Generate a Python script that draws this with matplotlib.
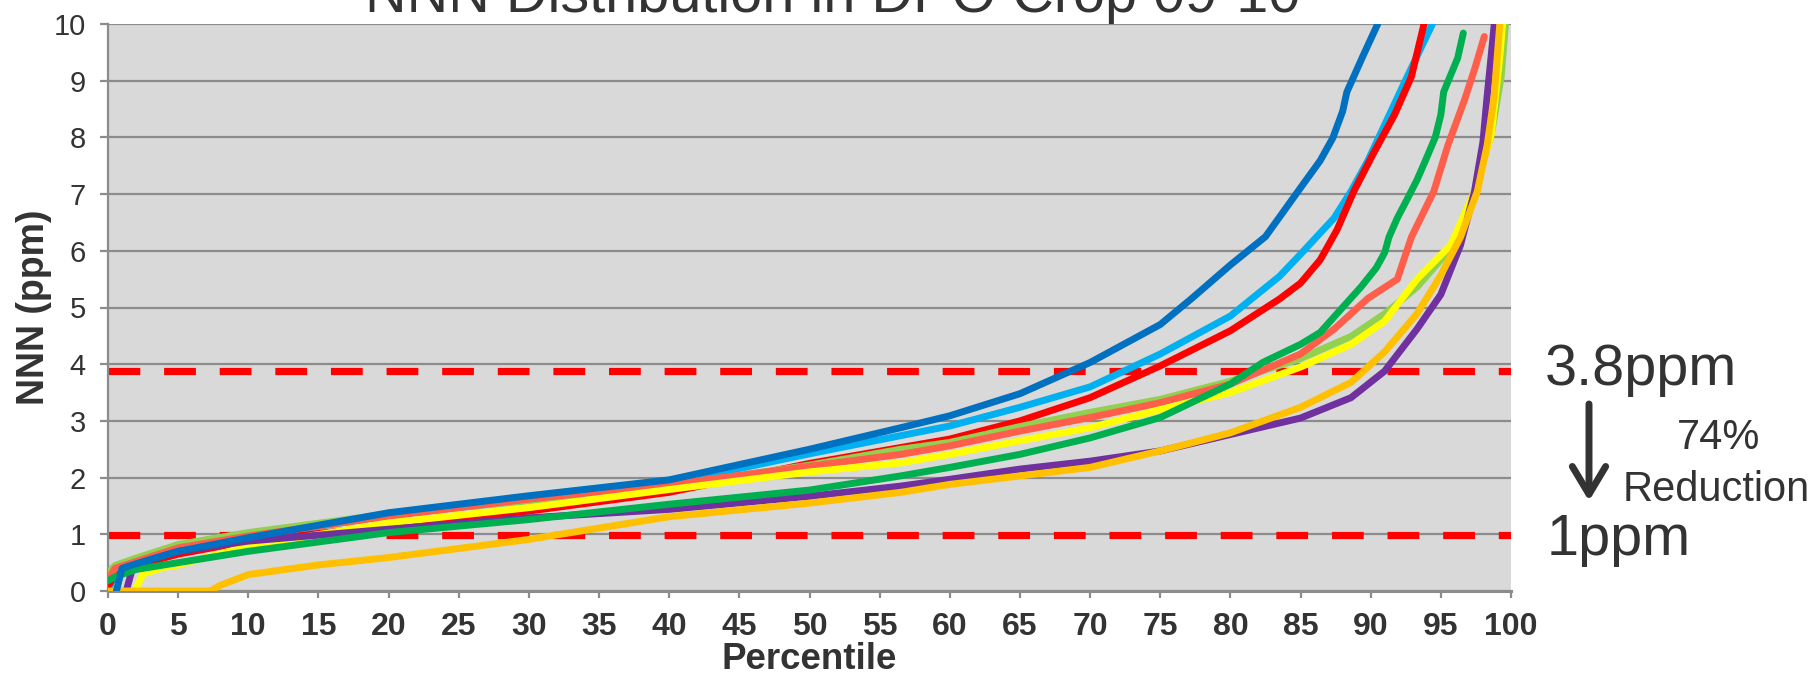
import matplotlib
matplotlib.use("Agg")
import matplotlib.pyplot as plt
from matplotlib.patches import FancyArrowPatch

# ---------------- data (percentile -> NNN ppm) ----------------
blue_pct = [0.6, 1.0, 2, 5, 10, 20, 30, 40, 50, 56.5, 60, 65, 70, 75, 77.2, 80, 82.5, 85.2, 86.4, 87.3, 88.0, 88.3, 89.4, 90.5]
blue_nnn = [0, 0.4, 0.48, 0.7, 0.94, 1.38, 1.68, 1.96, 2.5, 2.88, 3.09, 3.48, 4.03, 4.7, 5.15, 5.75, 6.25, 7.18, 7.59, 7.99, 8.46, 8.8, 9.41, 10]

lblue_pct = [0, 0.5, 1, 2, 5, 10, 20, 30, 40, 50, 56.5, 60, 65, 70, 75, 80, 81.5, 83.5, 85, 87.4, 88.6, 89.8, 91.2, 92.6, 94.4]
lblue_nnn = [0, 0.3, 0.45, 0.5, 0.72, 0.95, 1.33, 1.62, 1.9, 2.42, 2.74, 2.91, 3.24, 3.6, 4.18, 4.85, 5.15, 5.55, 5.94, 6.58, 7.05, 7.59, 8.33, 9.07, 10]

red_pct = [0, 0.5, 2, 5, 10, 20, 30, 40, 50, 56.5, 60, 65, 70, 75, 80, 83.5, 85, 86.4, 87.6, 88.8, 90.2, 91.7, 92.9, 93.8]
red_nnn = [0.08, 0.3, 0.45, 0.65, 0.88, 1.15, 1.41, 1.74, 2.25, 2.53, 2.68, 3.0, 3.41, 3.97, 4.59, 5.15, 5.43, 5.84, 6.37, 7.05, 7.72, 8.4, 9.07, 10]

salmon_pct = [0, 0.5, 2, 5, 10, 20, 30, 40, 50, 56.5, 60, 65, 70, 75, 80, 85, 87.4, 89.8, 91.9, 92.9, 94.5, 95.5, 96.7, 97.4, 98.1]
salmon_nnn = [0.2, 0.4, 0.52, 0.76, 0.97, 1.32, 1.62, 1.88, 2.2, 2.41, 2.56, 2.82, 3.06, 3.32, 3.65, 4.18, 4.62, 5.16, 5.5, 6.24, 7.05, 7.86, 8.67, 9.2, 9.78]

lgreen_pct = [0, 0.5, 2, 5, 10, 20, 30, 40, 50, 56.5, 60, 65, 70, 75, 80, 85, 88.6, 91, 93.3, 95.7, 97.4, 98.6, 99.3, 99.6]
lgreen_nnn = [0.32, 0.45, 0.58, 0.82, 1.03, 1.36, 1.59, 1.85, 2.22, 2.5, 2.62, 2.9, 3.15, 3.38, 3.7, 4.1, 4.49, 4.89, 5.36, 6.04, 7.05, 8.06, 9.07, 9.98]

yellow_pct = [1.9, 2.5, 4, 5, 10, 20, 30, 40, 50, 56.5, 60, 65, 70, 75, 80, 85, 88.6, 91, 93.3, 95.7, 97.4, 98.6, 99.2, 99.4]
yellow_nnn = [0, 0.3, 0.42, 0.46, 0.79, 1.2, 1.47, 1.79, 2.1, 2.26, 2.41, 2.65, 2.88, 3.2, 3.5, 3.95, 4.35, 4.76, 5.5, 6.1, 7.05, 8.06, 9.41, 10]

green_pct = [0, 0.5, 2, 5, 10, 20, 30, 40, 50, 56.5, 60, 65, 70, 75, 80, 82.3, 85, 86.4, 88.1, 89.3, 90.4, 91.0, 91.3, 91.9, 92.6, 93.3, 93.9, 94.6, 95.0, 95.2, 96.2, 96.6]
green_nnn = [0.18, 0.25, 0.38, 0.5, 0.7, 1.03, 1.26, 1.53, 1.78, 2.03, 2.18, 2.41, 2.7, 3.06, 3.65, 4.03, 4.35, 4.56, 5.03, 5.36, 5.7, 5.97, 6.24, 6.58, 6.91, 7.25, 7.59, 8.0, 8.4, 8.8, 9.4, 9.84]

purple_pct = [1.3, 1.8, 3, 5, 10, 20, 30, 40, 50, 56.5, 60, 65, 70, 75, 80, 85, 88.6, 91, 93.3, 95, 96.4, 97.4, 98, 98.3, 98.6, 98.8]
purple_nnn = [0, 0.45, 0.55, 0.7, 0.88, 1.09, 1.29, 1.44, 1.67, 1.85, 1.97, 2.15, 2.29, 2.47, 2.76, 3.05, 3.41, 3.88, 4.62, 5.23, 6.1, 7.05, 7.92, 8.73, 9.47, 9.98]

orange_pct = [0, 7.3, 8, 10, 15, 20, 30, 40, 50, 56.5, 60, 65, 70, 75, 80, 85, 88.6, 91, 93.3, 95, 96.4, 97.6, 98.3, 98.8, 99.2]
orange_nnn = [0, 0, 0.1, 0.29, 0.46, 0.59, 0.91, 1.31, 1.55, 1.74, 1.88, 2.03, 2.18, 2.47, 2.79, 3.24, 3.68, 4.22, 4.89, 5.57, 6.24, 7.05, 7.86, 8.73, 10]

series = [
    (lblue_pct, lblue_nnn, "#00B0F0"),
    (red_pct, red_nnn, "#FF0000"),
    (lgreen_pct, lgreen_nnn, "#92D050"),
    (salmon_pct, salmon_nnn, "#FF5F4A"),
    (yellow_pct, yellow_nnn, "#FFFF00"),
    (purple_pct, purple_nnn, "#7030A0"),
    (orange_pct, orange_nnn, "#FFC000"),
    (green_pct, green_nnn, "#00B050"),
    (blue_pct, blue_nnn, "#0070C0"),
]

threshold_levels = [3.88, 0.98]
x_ticks = list(range(0, 101, 5))
y_ticks = list(range(0, 11))

title = "NNN Distribution in DPO Crop 09-10"
text_color = "#333333"

# ---------------- figure ----------------
W, H = 1818, 674
plt.rcParams['font.family'] = ['Liberation Sans', 'DejaVu Sans']
fig = plt.figure(figsize=(W / 100, H / 100), dpi=100)

ax = fig.add_axes([108 / W, 1 - 591 / H, (1511 - 108) / W, (591 - 24) / H])
ax.set_facecolor("#D9D9D9")
ax.set_xlim(0, 100)
ax.set_ylim(0, 10)

for y in y_ticks:
    ax.axhline(y, color="#8C8C8C", lw=1.6, zorder=1)

for lvl in threshold_levels:
    ax.axhline(lvl, color="#FF0000", lw=5.2, dashes=(4.4, 3.3), zorder=2)

for pct, val, col in series:
    ax.plot(pct, val, color=col, lw=5.0, solid_capstyle="round",
            solid_joinstyle="round", zorder=3)

for s in ["top", "right"]:
    ax.spines[s].set_visible(False)
for s in ["left", "bottom"]:
    ax.spines[s].set_color("#8C8C8C")
ax.spines["left"].set_linewidth(1.6)
ax.spines["bottom"].set_linewidth(2.2)

ax.set_xticks(x_ticks)
ax.set_yticks(y_ticks)
ax.tick_params(axis="y", direction="out", length=6, width=1.6, color="#8C8C8C",
               labelsize=21, labelcolor=text_color, pad=10)
ax.tick_params(axis="x", direction="out", length=5, width=1.6, color="#8C8C8C",
               labelsize=23, labelcolor=text_color, pad=10)
for lab in ax.get_xticklabels():
    lab.set_fontweight("bold")

ax.set_xlabel("Percentile", fontsize=26.5, fontweight="bold", color=text_color)
ax.set_ylabel("NNN (ppm)", fontsize=27, fontweight="bold", color=text_color)
ax.yaxis.set_label_coords(-(108 - 52) / (1511 - 108), 0.5)
ax.xaxis.set_label_coords(0.5, -(669 - 591) / (591 - 24))
ax.xaxis.label.set_va("baseline")

fig.text(833 / W, 1 - 12 / H, title, ha="center", va="baseline",
         fontsize=41.5, color=text_color)

fig.text(1545 / W, 1 - 385 / H, "3.8ppm", ha="left", va="baseline",
         fontsize=41.5, color=text_color)
fig.text(1547 / W, 1 - 555 / H, "1ppm", ha="left", va="baseline",
         fontsize=41.5, color=text_color)
fig.text(1677 / W, 1 - 449 / H, "74%", ha="left", va="baseline",
         fontsize=30, color=text_color)
fig.text(1623 / W, 1 - 501 / H, "Reduction", ha="left", va="baseline",
         fontsize=30, color=text_color)

fig.patches.append(FancyArrowPatch(
    (1589 / W, 1 - 404 / H), (1589 / W, 1 - 501 / H),
    transform=fig.transFigure, arrowstyle="->,head_length=0.5,head_width=0.3",
    mutation_scale=40, lw=5, color=text_color, shrinkA=0, shrinkB=0))

fig.savefig("out.png", dpi=100)
